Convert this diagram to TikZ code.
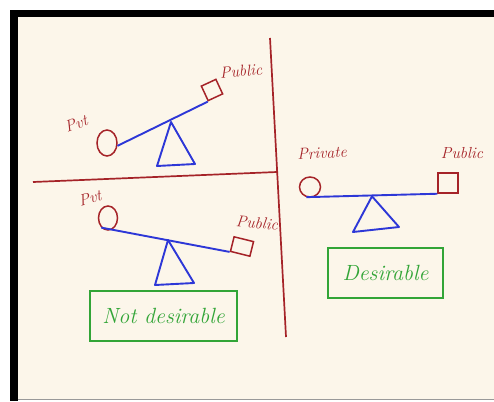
\documentclass[tikz,border=0pt]{standalone}
\usetikzlibrary{shapes.geometric}

\definecolor{inkred}{RGB}{165,35,40}
\definecolor{inkblue}{RGB}{45,55,215}
\definecolor{inkgreen}{RGB}{50,165,55}
\definecolor{paper}{RGB}{252,246,234}

\begin{document}
\begin{tikzpicture}[
    x=1pt,y=-1pt,
    divider/.style={draw=inkred, line width=1.7pt},
    weight/.style={
        ellipse,
        draw=inkred,
        line width=1.5pt,
        inner sep=0pt
    },
    box/.style={
        rectangle,
        draw=inkred,
        line width=1.5pt,
        inner sep=0pt
    },
    beam/.style={draw=inkblue, line width=1.9pt},
    pivot/.style={draw=inkblue, line width=1.9pt, line join=round},
    lbl/.style={
        text=inkred,
        font=\fontsize{16}{18}\selectfont\itshape,
        inner sep=0pt
    },
    verdict/.style={
        draw=inkgreen,
        line width=1.8pt,
        text=inkgreen,
        font=\fontsize{22}{24}\selectfont\itshape,
        align=center
    }
]

    % frame
    \fill[white] (0,0) rectangle (494,401);
    \useasboundingbox (0,0) rectangle (494,401);
    \fill[black] (10,10) rectangle (18,401);
    \fill[black] (10,10) rectangle (494,17);
    \fill[paper] (18,17) rectangle (494,398.5);
    \draw[black!40, line width=0.8pt] (18,399.2) -- (494,399.2);

    % dividing lines
    \coordinate (hl) at (33,182);
    \coordinate (hr) at (277,172);
    \coordinate (vt) at (270,38);
    \coordinate (vb) at (286,337);
    \draw[divider] (hl) -- (hr);
    \draw[divider] (vt) -- (vb);

    % top left: tilted up
    \node[weight, minimum width=20pt, minimum height=26pt] (pvtA) at (107,143) {};
    \node[box, minimum size=16pt, rotate=25] (pubA) at (212,90) {};
    \draw[beam] (pvtA.-15) -- (pubA.south west);
    \draw[pivot] (171,122) -- (157,166) -- (195,164) -- cycle;
    \node[lbl, rotate=20] (pvtAlbl) at (76,124) {Pvt};
    \node[lbl, rotate=5] (pubAlbl) at (241,71) {Public};

    % bottom left: tilted down
    \node[weight, minimum width=19pt, minimum height=24pt] (pvtB) at (108,218) {};
    \node[box, minimum width=20pt, minimum height=15pt, rotate=-14] (pubB) at (242,246.5) {};
    \draw[beam] (pvtB.235) -- (pubB.south west);
    \draw[pivot] (168,240) -- (155,285) -- (194,283) -- cycle;
    \node[lbl, rotate=15] (pvtBlbl) at (90,198) {Pvt};
    \node[lbl, rotate=-5] (pubBlbl) at (257,223) {Public};

    \node[verdict, minimum width=147pt, minimum height=50pt] (notdes) at (163.5,316) {Not desirable};

    % right: balanced
    \node[weight, minimum width=21pt, minimum height=20pt] (pvtC) at (310,187) {};
    \node[box, minimum size=20pt] (pubC) at (448,183) {};
    \draw[beam] (pvtC.250) -- (pubC.south west);
    \node[coordinate] (tipC) at (372,196.3) {};
    \draw[pivot] (tipC) -- (353,232) -- (399,227) -- cycle;
    \node[lbl, rotate=3] (pvtClbl) at (322,153) {Private};
    \node[lbl] (pubClbl) at (462,153) {Public};

    \node[verdict, minimum width=115pt, minimum height=50pt] (des) at (385.5,273) {Desirable};

\end{tikzpicture}
\end{document}
